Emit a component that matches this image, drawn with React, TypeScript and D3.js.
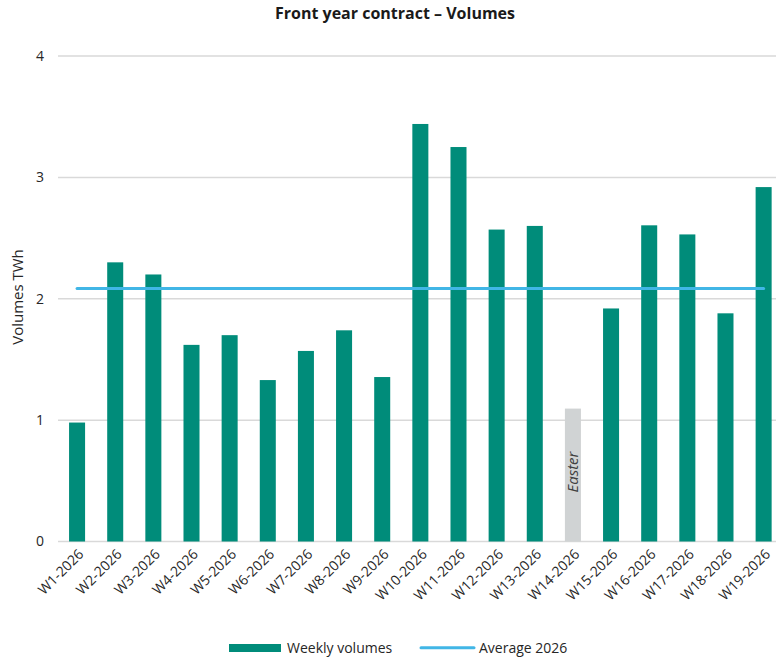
import React from "react";
import * as d3 from "d3";

const categories = [
  "W1-2026", "W2-2026", "W3-2026", "W4-2026", "W5-2026", "W6-2026", "W7-2026",
  "W8-2026", "W9-2026", "W10-2026", "W11-2026", "W12-2026", "W13-2026", "W14-2026",
  "W15-2026", "W16-2026", "W17-2026", "W18-2026", "W19-2026",
];
const weeklyVolumes = [
  0.98, 2.3, 2.2, 1.62, 1.7, 1.33, 1.57, 1.74, 1.355, 3.44, 3.25, 2.57, 2.6, 1.095,
  1.92, 2.605, 2.53, 1.88, 2.92,
];
const holidayWeeks = ["W14-2026"];
const holidayLabel = "Easter";
const average2026 = 2.085;
const yTicks = [0, 1, 2, 3, 4];
const title = "Front year contract – Volumes";
const yTitle = "Volumes TWh";
const legendLabels = ["Weekly volumes", "Average 2026"];

const W = 776;
const H = 657;
const FONT = "'Open Sans', sans-serif";
const GREEN = "#008c7a";
const BLUE = "#41b6e6";
const GREY = "#d0d3d4";
const TEXT = "#262626";

export default function App() {
  const left = 58;
  const right = 782.7;
  const top = 56;
  const bottom = 541.5;
  const x = d3.scaleBand<string>().domain(categories).range([left, right]).paddingInner(0.58).paddingOuter(0.29);
  const y = d3.scaleLinear().domain([0, 4]).range([bottom, top]);
  const bw = x.bandwidth();
  const cx = (c: string) => (x(c) as number) + bw / 2;

  const avgLine = d3.line<string>().x((c) => cx(c)).y(() => y(average2026));

  return (
    <div style={{ position: "absolute", left: 0, top: 0 }}>
      <svg width={W} height={H} style={{ display: "block", background: "#fff" }} fontFamily={FONT}>
        <text x={395} y={19} textAnchor="middle" fontSize={16} fontWeight="bold" fill="#1a1a1a">
          {title}
        </text>
        {yTicks.map((t) => (
          <g key={t}>
            <line x1={left} x2={W} y1={y(t)} y2={y(t)} stroke="#d9d9d9" strokeWidth={1.5} />
            <text x={44} y={y(t)} dy="0.35em" textAnchor="end" fontSize={14} fill={TEXT}>
              {t}
            </text>
          </g>
        ))}
        <text transform={`translate(23,297) rotate(-90)`} textAnchor="middle" fontSize={15} fill={TEXT}>
          {yTitle}
        </text>
        {categories.map((c, i) => {
          const v = weeklyVolumes[i];
          const holiday = holidayWeeks.includes(c);
          return (
            <rect
              key={c}
              x={x(c)}
              y={y(v)}
              width={bw}
              height={y(0) - y(v)}
              fill={holiday ? GREY : GREEN}
            />
          );
        })}
        {categories.map((c, i) =>
          holidayWeeks.includes(c) ? (
            <text
              key={"h" + c}
              transform={`translate(${cx(c) + 5},${(y(weeklyVolumes[i]) + y(0)) / 2 - 3}) rotate(-90)`}
              textAnchor="middle"
              fontSize={15}
              fontStyle="italic"
              fill="#404040"
            >
              {holidayLabel}
            </text>
          ) : null
        )}
        <path d={avgLine(categories) || ""} stroke={BLUE} strokeWidth={3} fill="none" strokeLinecap="round" />
        {categories.map((c) => (
          <text
            key={"l" + c}
            transform={`translate(${cx(c) + 4},${bottom + 10}) rotate(-45)`}
            textAnchor="end"
            dy="0.35em"
            fontSize={14}
            fill={TEXT}
          >
            {c}
          </text>
        ))}
        <rect x={229} y={644} width={52} height={8} fill={GREEN} />
        <text x={287} y={652.5} fontSize={14} fill={TEXT}>
          {legendLabels[0]}
        </text>
        <line x1={421} x2={474} y1={647.8} y2={647.8} stroke={BLUE} strokeWidth={3} strokeLinecap="round" />
        <text x={479} y={652.5} fontSize={14} fill={TEXT}>
          {legendLabels[1]}
        </text>
      </svg>
    </div>
  );
}
